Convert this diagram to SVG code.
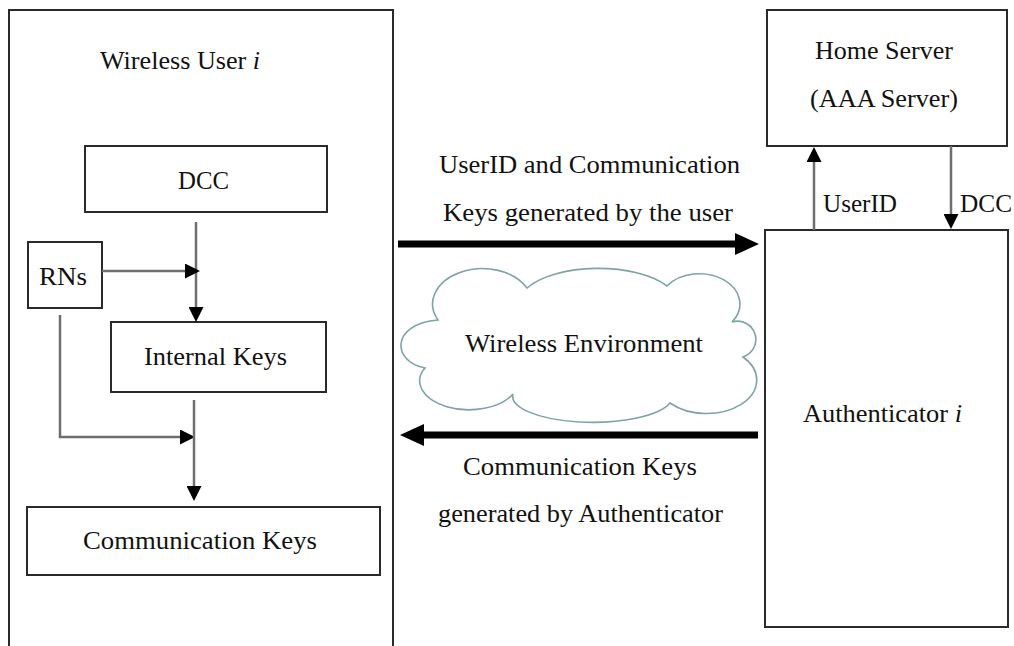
<svg xmlns="http://www.w3.org/2000/svg" width="1014" height="646" viewBox="0 0 1014 646">
  <style>
    .box { fill: #ffffff; stroke: #2a2a2a; stroke-width: 2; }
    .lbl { font-family: "Liberation Serif", "Times New Roman", serif; font-size: 25px; fill: #111111; }
    .thin { stroke: #6e6e6e; stroke-width: 2.5; fill: none; }
    .thick { stroke: #000000; stroke-width: 7; fill: none; }
    .cloud { fill: #ffffff; stroke: #7fa3a5; stroke-width: 1.6; }
  </style>
  <defs>
    <marker id="headThin" viewBox="0 0 15 15" refX="0" refY="7.5" markerWidth="15" markerHeight="15" markerUnits="userSpaceOnUse" orient="auto">
      <path d="M0,0 L15,7.5 L0,15 Z" fill="#000000"/>
    </marker>
    <marker id="headThick" viewBox="0 0 24 22" refX="0" refY="11" markerWidth="24" markerHeight="22" markerUnits="userSpaceOnUse" orient="auto">
      <path d="M0,0 L24,11 L0,22 Z" fill="#000000"/>
    </marker>
  </defs>

  <!-- user side -->
  <g id="wireless-user">
    <rect class="box" x="9" y="10" width="384" height="660"/>
    <text class="lbl" x="100" y="69" textLength="160" lengthAdjust="spacingAndGlyphs">Wireless User <tspan font-style="italic">i</tspan></text>
  </g>
  <g id="dcc">
    <rect class="box" x="85" y="146" width="242" height="66"/>
    <text class="lbl" x="178" y="189" textLength="51" lengthAdjust="spacingAndGlyphs">DCC</text>
  </g>
  <g id="rns">
    <rect class="box" x="28" y="242" width="74" height="66"/>
    <text class="lbl" x="39" y="285" textLength="48" lengthAdjust="spacingAndGlyphs">RNs</text>
  </g>
  <g id="internal-keys">
    <rect class="box" x="111" y="322" width="215" height="70"/>
    <text class="lbl" x="144" y="365" textLength="143" lengthAdjust="spacingAndGlyphs">Internal Keys</text>
  </g>
  <g id="communication-keys">
    <rect class="box" x="27" y="507" width="353" height="68"/>
    <text class="lbl" x="83" y="549" textLength="234" lengthAdjust="spacingAndGlyphs">Communication Keys</text>
  </g>

  <!-- network side -->
  <g id="home-server">
    <rect class="box" x="767" y="10" width="240" height="136"/>
    <text class="lbl" x="815" y="59" textLength="138" lengthAdjust="spacingAndGlyphs">Home Server</text>
    <text class="lbl" x="810" y="107" textLength="148" lengthAdjust="spacingAndGlyphs">(AAA Server)</text>
  </g>
  <g id="authenticator">
    <rect class="box" x="765" y="230" width="243" height="397"/>
    <text class="lbl" x="803" y="422" textLength="159" lengthAdjust="spacingAndGlyphs">Authenticator <tspan font-style="italic">i</tspan></text>
  </g>

  <g id="wireless-environment">
    <path class="cloud" d="M425,368 C392,362 390,324 438,320 A48,34 0 0 1 527,288 A80,36 0 0 1 667,286 A40,30 0 0 1 732,322 A18,18 0 0 1 743,357 A45,30 0 0 1 670,403 A80,26 0 0 1 513,394 A48,28 0 0 1 425,368 Z"/>
    <text class="lbl" x="465" y="352" textLength="238" lengthAdjust="spacingAndGlyphs">Wireless Environment</text>
  </g>

  <!-- connectors -->
  <g id="connectors">
    <!-- inside the user -->
    <line class="thin" x1="196" y1="222" x2="196" y2="307" marker-end="url(#headThin)"/>
    <line class="thin" x1="102" y1="271" x2="185" y2="271" marker-end="url(#headThin)"/>
    <polyline class="thin" points="60,315 60,437 180,437" marker-end="url(#headThin)"/>
    <line class="thin" x1="194" y1="400" x2="194" y2="486" marker-end="url(#headThin)"/>

    <!-- user to authenticator and back -->
    <line class="thick" x1="398" y1="244" x2="735" y2="244" marker-end="url(#headThick)"/>
    <line class="thick" x1="758" y1="435" x2="424" y2="435" marker-end="url(#headThick)"/>
    <text class="lbl" x="439" y="173" textLength="301" lengthAdjust="spacingAndGlyphs">UserID and Communication</text>
    <text class="lbl" x="443" y="221" textLength="290" lengthAdjust="spacingAndGlyphs">Keys generated by the user</text>
    <text class="lbl" x="463" y="475" textLength="234" lengthAdjust="spacingAndGlyphs">Communication Keys</text>
    <text class="lbl" x="438" y="522" textLength="285" lengthAdjust="spacingAndGlyphs">generated by Authenticator</text>

    <!-- authenticator and home server -->
    <line class="thin" x1="814" y1="230" x2="814" y2="162" marker-end="url(#headThin)"/>
    <line class="thin" x1="951" y1="146" x2="951" y2="214" marker-end="url(#headThin)"/>
    <text class="lbl" x="823" y="212" textLength="74" lengthAdjust="spacingAndGlyphs">UserID</text>
    <text class="lbl" x="960" y="212" textLength="52" lengthAdjust="spacingAndGlyphs">DCC</text>
  </g>
</svg>
